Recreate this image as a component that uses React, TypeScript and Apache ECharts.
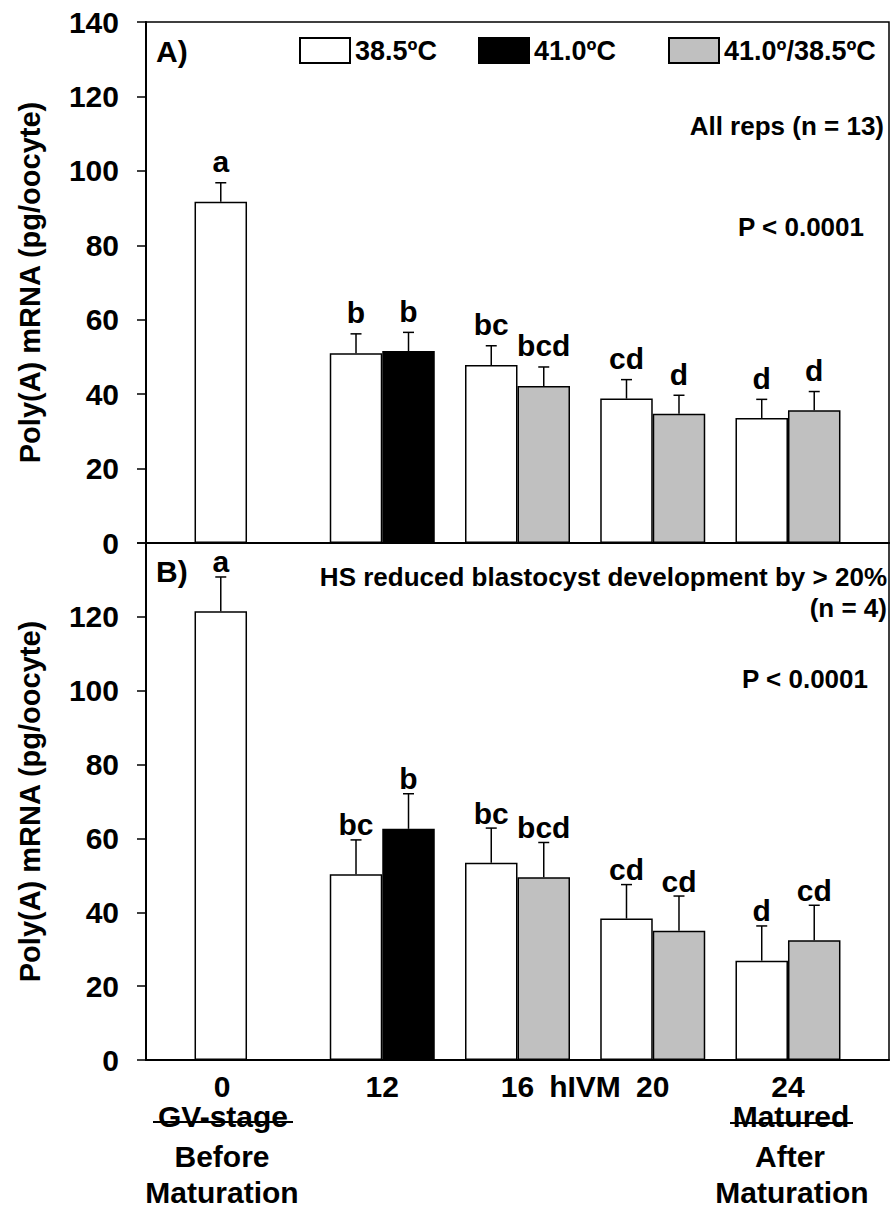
import React, { useEffect, useRef } from "react";
import * as echarts from "echarts";

const FONT = '"Liberation Sans", Arial, Helvetica, sans-serif';

// Categories (hours of IVM)
const categories = ["0", "12", "16", "20", "24"];
const seriesNames = ["38.5ºC", "41.0ºC", "41.0º/38.5ºC"];

// Panel A: All reps (n = 13)
const whiteA = [91.7, 51.0, 47.8, 38.8, 33.6];
const whiteErrA = [5.1, 5.2, 5.2, 5.1, 5.0];
const whiteLetA = ["a", "b", "bc", "cd", "d"];
const blackA = ["-", 51.6, "-", "-", "-"];
const blackErrA = [0, 5.0, 0, 0, 0];
const blackLetA = ["", "b", "", "", ""];
const grayA = ["-", "-", 42.2, 34.7, 35.7];
const grayErrA = [0, 0, 5.1, 5.0, 5.0];
const grayLetA = ["", "", "bcd", "d", "d"];

// Panel B: HS reduced blastocyst development by > 20% (n = 4)
const whiteB = [121.5, 50.3, 53.4, 38.3, 26.9];
const whiteErrB = [9.3, 9.3, 9.4, 9.2, 9.4];
const whiteLetB = ["a", "bc", "bc", "cd", "d"];
const blackB = ["-", 62.6, "-", "-", "-"];
const blackErrB = [0, 9.5, 0, 0, 0];
const blackLetB = ["", "b", "", "", ""];
const grayB = ["-", "-", 49.5, 35.0, 32.4];
const grayErrB = [0, 0, 9.4, 9.4, 9.5];
const grayLetB = ["", "", "bcd", "cd", "cd"];

const yTicks = [0, 20, 40, 60, 80, 100, 120, 140];

const BAR_W = 52.5;

type ErrItem = { cat: number; slot: number; mean: number; top: number; letter: string };

function buildErr(
  w: any[], we: number[], wl: string[],
  k: any[], ke: number[], kl: string[],
  g: any[], ge: number[], gl: string[]
): ErrItem[] {
  const out: ErrItem[] = [];
  categories.forEach((_, i) => {
    if (typeof w[i] === "number") out.push({ cat: i, slot: 0, mean: w[i], top: w[i] + we[i], letter: wl[i] });
    if (typeof k[i] === "number") out.push({ cat: i, slot: 1, mean: k[i], top: k[i] + ke[i], letter: kl[i] });
    if (typeof g[i] === "number") out.push({ cat: i, slot: 1, mean: g[i], top: g[i] + ge[i], letter: gl[i] });
  });
  return out;
}

const errA = buildErr(whiteA, whiteErrA, whiteLetA, blackA, blackErrA, blackLetA, grayA, grayErrA, grayLetA);
const errB = buildErr(whiteB, whiteErrB, whiteLetB, blackB, blackErrB, blackLetB, grayB, grayErrB, grayLetB);

function errSeries(items: ErrItem[], axisIdx: number, gap: number) {
  return {
    type: "custom",
    xAxisIndex: axisIdx,
    yAxisIndex: axisIdx,
    z: 5,
    silent: true,
    encode: { x: 0, y: [2, 3] },
    data: items.map((d) => [d.cat, d.slot, d.mean, d.top]),
    renderItem: (params: any, api: any) => {
      const it = items[params.dataIndex];
      const c = api.coord([api.value(0), api.value(2)]);
      const t = api.coord([api.value(0), api.value(3)]);
      const x = c[0] + (it.slot === 0 ? -BAR_W / 2 : BAR_W / 2);
      const ls = { stroke: "#000", lineWidth: 1.5 };
      return {
        type: "group",
        children: [
          { type: "line", shape: { x1: x, y1: c[1], x2: x, y2: t[1] }, style: ls },
          { type: "line", shape: { x1: x - 5.5, y1: t[1], x2: x + 5.5, y2: t[1] }, style: ls },
          {
            type: "text",
            x: x,
            y: t[1] - gap,
            style: {
              text: it.letter,
              fill: "#000",
              fontSize: 30,
              fontWeight: "bold",
              fontFamily: FONT,
              align: "center",
              verticalAlign: "bottom",
            },
          },
        ],
      };
    },
  };
}

const barStyle = (color: string) => ({ color, borderColor: "#000", borderWidth: 1.5 });

function barSeries(axisIdx: number, w: any[], k: any[], g: any[], stack: string) {
  return [
    { type: "bar", name: seriesNames[0], xAxisIndex: axisIdx, yAxisIndex: axisIdx, data: w, barWidth: BAR_W, barGap: "0%", itemStyle: barStyle("#ffffff") },
    { type: "bar", name: seriesNames[1], xAxisIndex: axisIdx, yAxisIndex: axisIdx, data: k, stack, barWidth: BAR_W, barGap: "0%", itemStyle: barStyle("#000000") },
    { type: "bar", name: seriesNames[2], xAxisIndex: axisIdx, yAxisIndex: axisIdx, data: g, stack, barWidth: BAR_W, barGap: "0%", itemStyle: barStyle("#c0c0c0") },
  ];
}

const txt = (text: string, x: number, y: number, size: number, align: string) => ({
  type: "text",
  x,
  y,
  silent: true,
  style: {
    text,
    fill: "#000",
    font: `bold ${size}px ${FONT}`,
    textAlign: align,
    align,
    textVerticalAlign: "middle",
    verticalAlign: "middle",
  },
});

const strike = (x1: number, x2: number, y: number) => ({
  type: "line",
  silent: true,
  shape: { x1, y1: y, x2, y2: y },
  style: { stroke: "#000", lineWidth: 2 },
});

function frameY(gridIndex: number, hideTop: boolean) {
  return {
    gridIndex,
    type: "value",
    min: yTicks[0],
    max: yTicks[yTicks.length - 1],
    interval: 20,
    axisLine: { show: true, lineStyle: { color: "#000", width: 2 } },
    axisTick: { show: true, length: 9, lineStyle: { color: "#000", width: 1.5 } },
    axisLabel: {
      margin: 27,
      color: "#000",
      fontSize: 30,
      fontWeight: "bold",
      fontFamily: FONT,
      formatter: (v: number) => (hideTop && v === 140 ? "" : String(v)),
    },
    splitLine: { show: false },
    name: "Poly(A) mRNA (pg/oocyte)",
    nameLocation: "middle",
    nameGap: 102,
    nameTextStyle: { color: "#000", fontSize: 29, fontWeight: "bold", fontFamily: FONT },
  };
}

const frameX = (gridIndex: number) => ({
  gridIndex,
  type: "category",
  data: categories,
  axisLine: { show: true, lineStyle: { color: "#000", width: 2 } },
  axisTick: { show: false },
  axisLabel: { show: false },
});

const legendItem = (name: string, left: number) => ({
  data: [name],
  left,
  top: 37,
  itemWidth: 50,
  itemHeight: 25,
  icon: "rect",
  selectedMode: false,
  padding: 0,
  textStyle: { color: "#000", fontSize: 27, fontWeight: "bold", fontFamily: FONT },
});

export default function App() {
  const ref = useRef<HTMLDivElement>(null);
  useEffect(() => {
    document.body.style.margin = "0";
    const chart = echarts.init(ref.current!, undefined, { renderer: "svg" });
    const labelStyle = { fontSize: 30, fontWeight: "bold", fontFamily: FONT, color: "#000" };
    const option: any = {
      animation: false,
      backgroundColor: "#ffffff",
      grid: [
        { left: 146, top: 22, width: 743, height: 521, show: true, borderColor: "#000", borderWidth: 1.5 },
        { left: 146, top: 543, width: 743, height: 517, show: true, borderColor: "#000", borderWidth: 1.5 },
        { left: 179.4, top: 22, width: 676.2, height: 521 },
        { left: 179.4, top: 543, width: 676.2, height: 517 },
      ],
      xAxis: [
        frameX(0),
        frameX(1),
        { gridIndex: 2, type: "category", data: categories, show: false },
        {
          gridIndex: 3,
          type: "category",
          data: categories,
          axisLine: { show: false },
          axisTick: { show: false },
          axisLabel: {
            margin: 11,
            ...labelStyle,
            formatter: (v: string) => (v === "0" ? "{z|" + v + "}" : "{n|" + v + "}"),
            rich: {
              z: { ...labelStyle, padding: [0, 50, 0, 0] },
              n: { ...labelStyle },
            },
          },
        },
      ],
      yAxis: [
        frameY(0, false),
        frameY(1, true),
        { gridIndex: 2, type: "value", min: 0, max: 140, interval: 20, show: false },
        { gridIndex: 3, type: "value", min: 0, max: 140, interval: 20, show: false },
      ],
      legend: [
        legendItem(seriesNames[0], 299),
        legendItem(seriesNames[1], 478),
        legendItem(seriesNames[2], 668),
      ],
      series: [
        ...barSeries(2, whiteA, blackA, grayA, "hsA"),
        ...barSeries(3, whiteB, blackB, grayB, "hsB"),
        errSeries(errA, 2, 6),
        errSeries(errB, 3, 0),
      ],
      graphic: [
        txt("A)", 156, 51, 30, "left"),
        txt("All reps (n = 13)", 884, 126, 26, "right"),
        txt("P < 0.0001", 864, 227, 26, "right"),
        txt("B)", 156, 571, 30, "left"),
        txt("HS reduced blastocyst development by > 20%", 887, 577, 26, "right"),
        txt("(n = 4)", 887, 608, 26, "right"),
        txt("P < 0.0001", 868, 679, 26, "right"),
        txt("hIVM", 585, 1086, 30, "center"),
        txt("GV-stage", 223, 1116, 30, "center"),
        txt("Before", 222, 1156, 30, "center"),
        txt("Maturation", 222, 1192, 30, "center"),
        txt("Matured", 791, 1116, 30, "center"),
        txt("After", 790, 1156, 30, "center"),
        txt("Maturation", 792, 1192, 30, "center"),
        strike(153, 293, 1122),
        strike(730, 853, 1123),
      ],
    };
    chart.setOption(option);
    return () => chart.dispose();
  }, []);
  return <div ref={ref} style={{ width: 892, height: 1210 }} />;
}
